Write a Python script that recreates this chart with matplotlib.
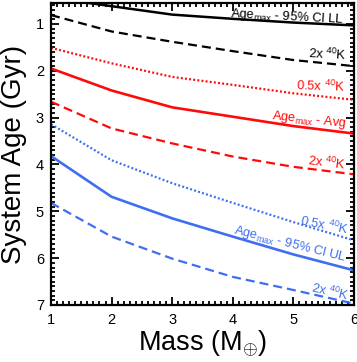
import matplotlib
matplotlib.use("Agg")
import matplotlib.pyplot as plt
from matplotlib.ticker import MultipleLocator

plt.rcParams['font.family'] = ['Liberation Sans', 'DejaVu Sans']
plt.rcParams['mathtext.fontset'] = 'custom'
plt.rcParams['mathtext.rm'] = 'Liberation Sans'
plt.rcParams['mathtext.it'] = 'Liberation Sans:italic'
plt.rcParams['lines.scale_dashes'] = False

mass = [1, 2, 3, 4, 5, 6]
ci_ll = [0.44, 0.62, 0.80, 0.89, 0.97, 1.03]
ci_ll_2x = [0.81, 1.16, 1.38, 1.58, 1.77, 1.90]
avg_half = [1.51, 1.84, 2.13, 2.30, 2.48, 2.62]
avg = [1.95, 2.42, 2.78, 2.98, 3.18, 3.34]
avg_2x = [2.66, 3.23, 3.55, 3.83, 4.05, 4.21]
ul_half = [3.14, 3.91, 4.40, 4.82, 5.23, 5.62]
ul = [3.82, 4.69, 5.15, 5.54, 5.92, 6.26]
ul_2x = [4.82, 5.54, 6.01, 6.40, 6.68, 6.97]

RED = '#ff0a0a'
BLUE = '#3f6fee'
DASH = (0, (6.5, 3.6))
DOT = (0, (1.4, 1.6))

fig = plt.figure(figsize=(3.57, 3.62), dpi=100)
ax = fig.add_axes([51/357, (362-305)/362, (354-51)/357, (305-2.9)/362])

ax.plot(mass, ci_ll, color='black', lw=1.8, ls='-')
ax.plot(mass, ci_ll_2x, color='black', lw=1.6, ls=DASH)
ax.plot(mass, avg_half, color=RED, lw=1.6, ls=DOT)
ax.plot(mass, avg, color=RED, lw=1.9, ls='-')
ax.plot(mass, avg_2x, color=RED, lw=1.6, ls=DASH)
ax.plot(mass, ul_half, color=BLUE, lw=1.6, ls=DOT)
ax.plot(mass, ul, color=BLUE, lw=1.9, ls='-')
ax.plot(mass, ul_2x, color=BLUE, lw=1.6, ls=DASH)

ax.set_xlim(1, 6)
ax.set_ylim(7, 0.55)

fs = 9.3
kw = dict(ha='right', va='baseline', rotation_mode='anchor', fontsize=fs)
ax.text(5.83, 0.97, r'Age$_{\rm max}$ - 95% CI LL', color='black', rotation=-3, **kw)
ax.text(5.87, 1.77, r'2x $^{40}$K', color='black', rotation=-3, **kw)
ax.text(5.85, 2.45, r'0.5x $^{40}$K', color=RED, rotation=-2, **kw)
ax.text(5.87, 3.19, r'Age$_{\rm max}$ - Avg', color=RED, rotation=-6, **kw)
ax.text(5.85, 4.12, r'2x $^{40}$K', color=RED, rotation=-7, **kw)
ax.text(5.89, 5.49, r'0.5x $^{40}$K', color=BLUE, rotation=-11, **kw)
ax.text(5.86, 6.06, r'Age$_{\rm max}$ - 95% CI UL', color=BLUE, rotation=-14, **kw)
ax.text(5.89, 6.90, r'2x $^{40}$K', color=BLUE, rotation=-13, **kw)

ax.xaxis.set_major_locator(MultipleLocator(1))
ax.xaxis.set_minor_locator(MultipleLocator(0.1))
ax.yaxis.set_major_locator(MultipleLocator(1))
ax.yaxis.set_minor_locator(MultipleLocator(0.1))
ax.tick_params(which='both', direction='in', top=True, right=True, width=1.3, labelsize=10.5)
ax.tick_params(which='major', length=6)
ax.tick_params(which='minor', length=3)
ax.tick_params(axis='x', pad=6)
ax.tick_params(axis='y', pad=5)
for s in ax.spines.values():
    s.set_linewidth(1.6)

ax.set_xlabel(r'Mass (M$_{\oplus}$)', fontsize=19.5)
ax.set_ylabel('System Age (Gyr)', fontsize=20)
ax.xaxis.set_label_coords(0.5, -0.078)
ax.yaxis.set_label_coords(-0.08, 0.5)

fig.savefig('out.png', dpi=100)
